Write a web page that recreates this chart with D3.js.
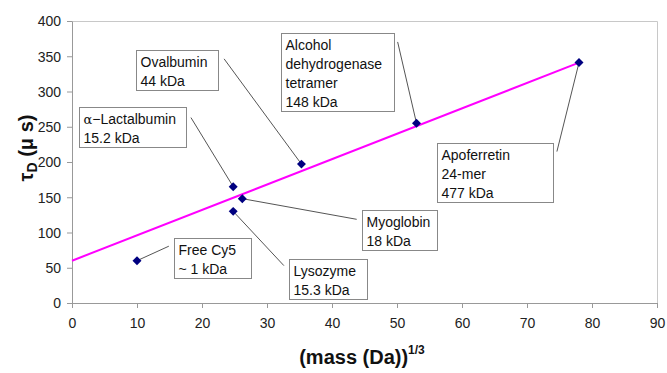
<!DOCTYPE html>
<html>
<head>
<meta charset="utf-8">
<script src="https://cdn.jsdelivr.net/npm/d3@7"></script>
<style>
  body { margin: 0; background: #fff; }
  svg { display: block; font-family: Arial, "Liberation Sans", sans-serif; }
  .axis path, .axis line { stroke: #999; }
  .axis text { font-size: 14px; fill: #222; }
  .callout rect { fill: #fff; stroke: #888; stroke-width: 1; }
  .callout text { font-size: 14px; fill: #111; }
  .leader { stroke: #555; stroke-width: 1; }
</style>
</head>
<body>
<div id="chart"></div>
<script>
// values
const proteins = ['Free Cy5', 'α-Lactalbumin', 'Lysozyme', 'Myoglobin', 'Ovalbumin', 'Alcohol dehydrogenase', 'Apoferretin'];
const massRoot = [10, 24.8, 24.8, 26.2, 35.3, 53, 78];
const tauD = [60, 165, 130, 148, 197, 255, 341];
const fitX = [0, 78];
const fitY = [60, 341];
const xTicks = [0, 10, 20, 30, 40, 50, 60, 70, 80, 90];
const yTicks = [0, 50, 100, 150, 200, 250, 300, 350, 400];

// callout text lines, one entry per protein
const calloutText = [
  ['Free Cy5', '~ 1 kDa'],
  ['α−Lactalbumin', '15.2 kDa'],
  ['Lysozyme', '15.3 kDa'],
  ['Myoglobin', '18 kDa'],
  ['Ovalbumin', '44 kDa'],
  ['Alcohol', 'dehydrogenase', 'tetramer', '148 kDa'],
  ['Apoferretin', '24-mer', '477 kDa']
];
// callout layout: box top-left and leader start in data units, box width in px
const boxX = [15.7, 1.1, 33.4, 44.6, 9.85, 32.15, 56.15];
const boxY = [92, 278.5, 62.2, 131.4, 359, 383, 227.6];
const boxW = [77, 107, 78, 75, 82, 113, 116];
const leadX = [14.9, 18.3, 32.6, 43.8, 23.4, 50.1, 74.6];
const leadY = [80.6, 263, 53, 118.7, 346.3, 370.3, 214.8];

const width = 667, height = 373;
const margin = { top: 21, right: 10, bottom: 70, left: 72 };
const plotW = 585, plotH = 282;

const svg = d3.select('#chart').append('svg')
  .attr('width', width)
  .attr('height', height);

const g = svg.append('g')
  .attr('transform', `translate(${margin.left},${margin.top})`);

const x = d3.scaleLinear().domain([0, 90]).range([0, plotW]);
const y = d3.scaleLinear().domain([0, 400]).range([plotH, 0]);

// frame top & right
g.append('path')
  .attr('d', `M0,0.5H${plotW + 0.5}V${plotH}`)
  .attr('fill', 'none')
  .attr('stroke', '#c8c8c8');

g.append('g')
  .attr('class', 'axis')
  .attr('transform', `translate(0,${plotH})`)
  .call(d3.axisBottom(x).tickValues(xTicks).tickSize(5).tickSizeOuter(0).tickPadding(7))
  .selectAll('text').attr('dy', '0.9em');

g.append('g')
  .attr('class', 'axis')
  .call(d3.axisLeft(y).tickValues(yTicks).tickSize(5).tickSizeOuter(0).tickPadding(6))
  .selectAll('text').attr('dy', '0.35em');

// fit line
g.append('line')
  .attr('x1', x(fitX[0])).attr('y1', y(fitY[0]))
  .attr('x2', x(fitX[1])).attr('y2', y(fitY[1]))
  .attr('stroke', '#ff00ff')
  .attr('stroke-width', 2);

// leaders
g.selectAll('.leader')
  .data(proteins)
  .enter()
  .append('line')
  .attr('class', 'leader')
  .attr('x1', (d, i) => x(leadX[i]))
  .attr('y1', (d, i) => y(leadY[i]))
  .attr('x2', (d, i) => x(massRoot[i]))
  .attr('y2', (d, i) => y(tauD[i]));

// markers
g.selectAll('.pt')
  .data(proteins)
  .enter()
  .append('path')
  .attr('class', 'pt')
  .attr('d', d3.symbol().type(d3.symbolSquare).size(40))
  .attr('transform', (d, i) => `translate(${x(massRoot[i])},${y(tauD[i])}) rotate(45)`)
  .attr('fill', '#000080');

// callout boxes
const callouts = g.selectAll('.callout')
  .data(proteins)
  .enter()
  .append('g')
  .attr('class', 'callout')
  .attr('transform', (d, i) => `translate(${Math.round(x(boxX[i])) + 0.5},${Math.round(y(boxY[i])) + 0.5})`);

callouts.append('rect')
  .attr('width', (d, i) => boxW[i])
  .attr('height', (d, i) => 2 + 19 * calloutText[i].length);

callouts.each(function (d, i) {
  const t = d3.select(this).append('text');
  calloutText[i].forEach((line, j) => {
    const ts = t.append('tspan').attr('x', 4).attr('y', 16 + 19 * j);
    if (line.startsWith('α')) {
      ts.append('tspan').style('font-family', '"DejaVu Serif", serif').style('font-size', '13px').text('α');
      ts.append('tspan').text(line.slice(1));
    } else {
      ts.text(line);
    }
  });
});

// axis titles
const xt = svg.append('text')
  .attr('x', 362)
  .attr('y', 364)
  .attr('text-anchor', 'middle')
  .style('font-size', '20px')
  .style('font-weight', 'bold')
  .attr('fill', '#111');
xt.append('tspan').text('(mass (Da))');
xt.append('tspan').attr('dy', -10).style('font-size', '12px').text('1/3');

const yt = svg.append('text')
  .attr('transform', 'translate(33,148) rotate(-90)')
  .attr('text-anchor', 'middle')
  .style('font-size', '20px')
  .style('font-weight', 'bold')
  .attr('fill', '#111');
yt.append('tspan').text('τ');
yt.append('tspan').attr('dy', 4).style('font-size', '14px').text('D');
yt.append('tspan').attr('dy', -4).text(' (μ s)');
</script>
</body>
</html>
